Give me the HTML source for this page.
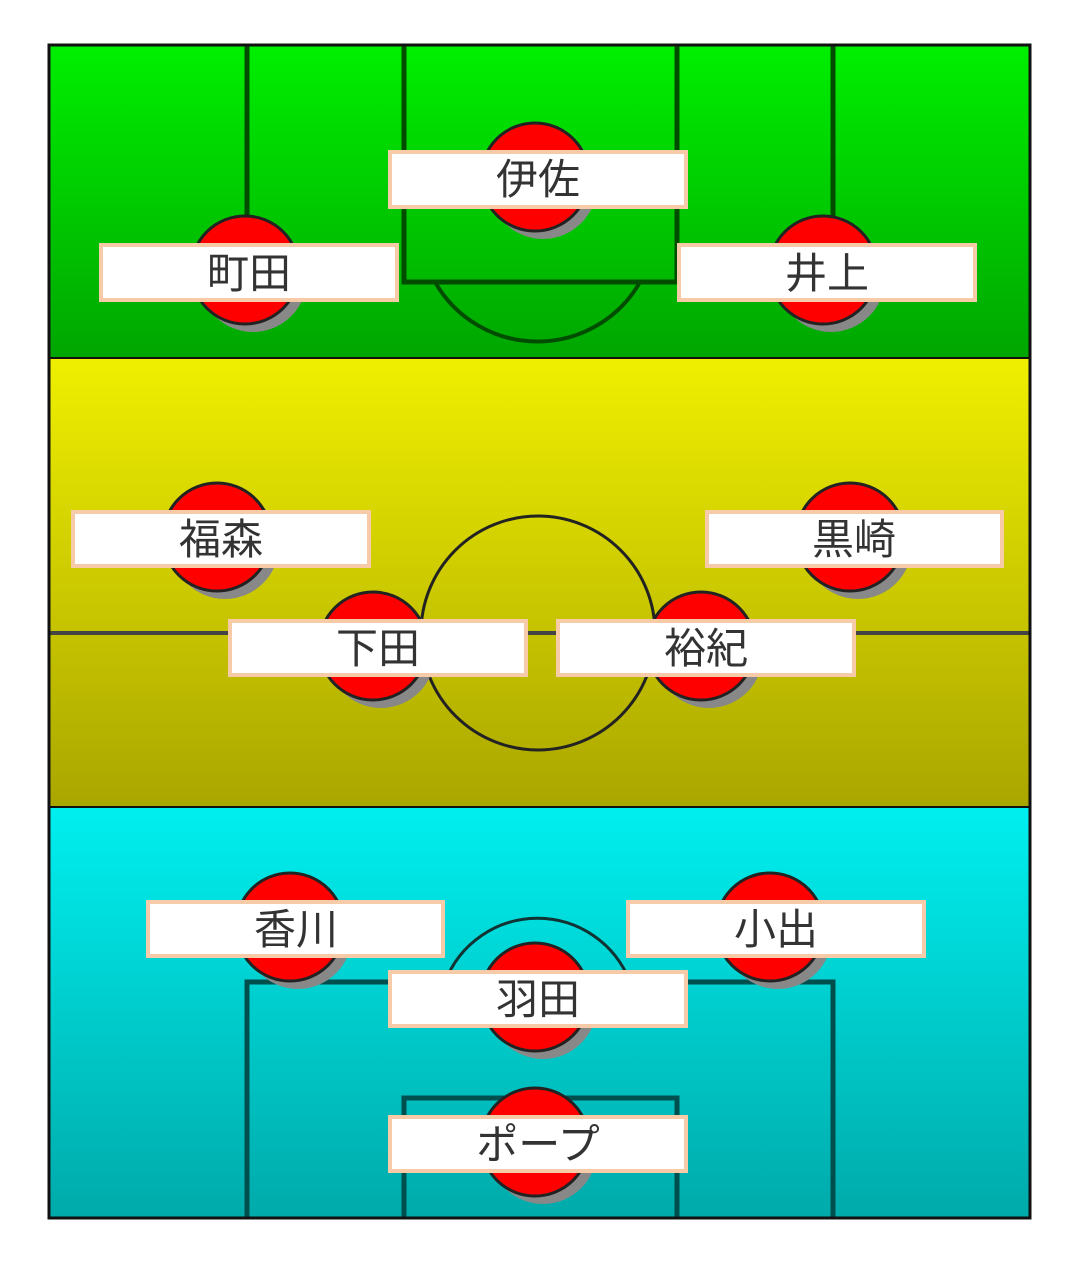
<!DOCTYPE html>
<html><head><meta charset="utf-8"><style>
body{margin:0;background:#fff;}
svg{display:block;}
text{font-family:"Liberation Sans","Noto Sans CJK JP",sans-serif;font-size:42px;fill:#333;}
</style></head><body>
<svg width="1080" height="1264" viewBox="0 0 1080 1264" xmlns="http://www.w3.org/2000/svg">
<defs>
<linearGradient id="g" x1="0" y1="0" x2="0" y2="1"><stop offset="0" stop-color="#00ef00"/><stop offset="1" stop-color="#00a600"/></linearGradient>
<linearGradient id="y" x1="0" y1="0" x2="0" y2="1"><stop offset="0" stop-color="#efef00"/><stop offset="1" stop-color="#aaa600"/></linearGradient>
<linearGradient id="c" x1="0" y1="0" x2="0" y2="1"><stop offset="0" stop-color="#00efef"/><stop offset="1" stop-color="#00aaaa"/></linearGradient>
</defs>
<rect x="49" y="45" width="981" height="312" fill="url(#g)"/>
<rect x="49" y="359" width="981" height="447" fill="url(#y)"/>
<rect x="49" y="808" width="981" height="409" fill="url(#c)"/>
<g stroke="#004d00" stroke-width="5" fill="none">
<path d="M247 45V300M833 45V300M404 45V282H677V45"/>
<path d="M435 282A118 118 0 0 0 640 282" stroke-width="4"/>
</g>
<g stroke="#222" stroke-width="3" fill="none">
<line x1="49" y1="633" x2="1030" y2="633" stroke-width="4" stroke="#444"/>
<circle cx="538" cy="633" r="117"/>
</g>
<g stroke="#004f4f" stroke-width="5" fill="none">
<path d="M247 1217V982H833V1217M404 1217V1098H677V1217"/>
<path d="M445 982A99 99 0 0 1 630 982" stroke="#113333" stroke-width="3"/>
</g>
<line x1="49" y1="358" x2="1030" y2="358" stroke="#111" stroke-width="2"/>
<line x1="49" y1="807" x2="1030" y2="807" stroke="#111" stroke-width="2"/>
<rect x="49" y="45" width="981" height="1173" fill="none" stroke="#111" stroke-width="3"/>
<g>
<g><circle cx="543" cy="185" r="54" fill="#888"/><circle cx="535" cy="177" r="54" fill="#f00" stroke="#222" stroke-width="3"/></g>
<g><circle cx="253" cy="278" r="54" fill="#888"/><circle cx="245" cy="270" r="54" fill="#f00" stroke="#222" stroke-width="3"/></g>
<g><circle cx="831" cy="278" r="54" fill="#888"/><circle cx="823" cy="270" r="54" fill="#f00" stroke="#222" stroke-width="3"/></g>
<g><circle cx="225" cy="545" r="54" fill="#888"/><circle cx="217" cy="537" r="54" fill="#f00" stroke="#222" stroke-width="3"/></g>
<g><circle cx="858" cy="545" r="54" fill="#888"/><circle cx="850" cy="537" r="54" fill="#f00" stroke="#222" stroke-width="3"/></g>
<g><circle cx="381" cy="654" r="54" fill="#888"/><circle cx="373" cy="646" r="54" fill="#f00" stroke="#222" stroke-width="3"/></g>
<g><circle cx="709" cy="654" r="54" fill="#888"/><circle cx="701" cy="646" r="54" fill="#f00" stroke="#222" stroke-width="3"/></g>
<g><circle cx="298" cy="935" r="54" fill="#888"/><circle cx="290" cy="927" r="54" fill="#f00" stroke="#222" stroke-width="3"/></g>
<g><circle cx="778" cy="935" r="54" fill="#888"/><circle cx="770" cy="927" r="54" fill="#f00" stroke="#222" stroke-width="3"/></g>
<g><circle cx="543" cy="1005" r="54" fill="#888"/><circle cx="535" cy="997" r="54" fill="#f00" stroke="#222" stroke-width="3"/></g>
<g><circle cx="543" cy="1150" r="54" fill="#888"/><circle cx="535" cy="1142" r="54" fill="#f00" stroke="#222" stroke-width="3"/></g>
</g>
<g fill="#fff" stroke="#f8cba8" stroke-width="4">
<rect x="390" y="152" width="296" height="55"/>
<rect x="101" y="245" width="296" height="55"/>
<rect x="679" y="245" width="296" height="55"/>
<rect x="73" y="512" width="296" height="54"/>
<rect x="707" y="512" width="295" height="54"/>
<rect x="230" y="621" width="296" height="54"/>
<rect x="558" y="621" width="296" height="54"/>
<rect x="148" y="902" width="295" height="54"/>
<rect x="628" y="902" width="296" height="54"/>
<rect x="390" y="972" width="296" height="54"/>
<rect x="390" y="1117" width="296" height="54"/>
</g>
<g text-anchor="middle">
<text x="538" y="194">伊佐</text>
<text x="249" y="288">町田</text>
<text x="827" y="288">井上</text>
<text x="221" y="554">福森</text>
<text x="854" y="554">黒崎</text>
<text x="378" y="663">下田</text>
<text x="706" y="663">裕紀</text>
<text x="296" y="944">香川</text>
<text x="776" y="944">小出</text>
<text x="538" y="1014">羽田</text>
<text x="538" y="1159">ポープ</text>
</g>
</svg>
</body></html>
